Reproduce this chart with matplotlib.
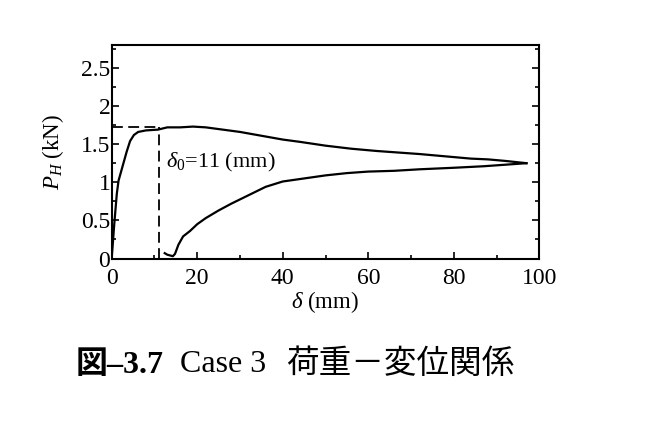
import matplotlib
matplotlib.use("Agg")
import matplotlib.pyplot as plt
from matplotlib.ticker import MultipleLocator

plt.rcParams['font.family'] = ['Liberation Serif', 'Noto Sans CJK JP', 'DejaVu Sans']
plt.rcParams['mathtext.fontset'] = 'custom'
plt.rcParams['mathtext.rm'] = 'Liberation Serif'
plt.rcParams['mathtext.it'] = 'Liberation Serif:italic'

# loading branch (delta in mm, P_H in kN)
load_x = [0, 0.6, 1.2, 1.6, 2.5, 3.5, 4.3, 5.2, 6.2, 8.0, 10.8, 13, 16, 19, 22, 26,
          30, 35, 40, 44, 50, 56, 62, 67, 72, 78, 84, 88, 92, 97]
load_y = [0, 0.45, 0.85, 1.02, 1.2, 1.4, 1.54, 1.62, 1.66, 1.68, 1.69, 1.72, 1.72, 1.73, 1.72, 1.69,
          1.66, 1.61, 1.56, 1.53, 1.48, 1.44, 1.41, 1.39, 1.37, 1.34, 1.31, 1.30, 1.28, 1.25]

# unloading branch
unload_x = [97, 92, 87, 80, 72, 66, 60, 55, 50, 45, 40, 36, 32, 28, 25, 22,
            20, 18.3, 16.7, 15.6, 14.8, 14.3, 13.0, 12.4]
unload_y = [1.25, 1.23, 1.21, 1.19, 1.17, 1.15, 1.14, 1.12, 1.09, 1.05, 1.01, 0.94, 0.83, 0.72, 0.63, 0.53,
            0.45, 0.36, 0.29, 0.18, 0.06, 0.03, 0.05, 0.07]

delta0 = 11
p_max = 1.73

fig = plt.figure(figsize=(6.52, 4.47), dpi=100)
ax = fig.add_axes([0.1713, 0.4217, 0.6559, 0.4776])

ax.plot(load_x, load_y, 'k-', lw=1.6)
ax.plot(unload_x, unload_y, 'k-', lw=1.6)
ax.plot([0, delta0], [p_max, p_max], 'k--', lw=1.3, dashes=(6, 3))
ax.plot([delta0, delta0], [0, p_max], 'k--', lw=1.3, dashes=(6, 3))

ax.text(12.6, 1.26, r'$\delta_0$=11 (mm)', fontsize=16, va='center', ha='left')

ax.set_xlim(0, 100)
ax.set_ylim(0, 2.8)
ax.xaxis.set_minor_locator(MultipleLocator(10))
ax.yaxis.set_minor_locator(MultipleLocator(0.25))
ax.set_xticks([0, 20, 40, 60, 80, 100])
ax.set_xticklabels(['0', '20', '40', '60', '80', '100'])
ax.set_yticks([0, 0.5, 1, 1.5, 2, 2.5])
ax.set_yticklabels(['0', '0.5', '1', '1.5', '2', '2.5'])

ax.tick_params(which='both', direction='in', top=False, right=True, labelsize=17, width=1.2)
ax.tick_params(which='major', length=5)
ax.tick_params(which='minor', length=3)
ax.tick_params(axis='y', pad=1)
ax.tick_params(axis='x', pad=7)
for s in ax.spines.values():
    s.set_linewidth(1.5)

ax.set_xlabel(r'$\delta$ (mm)', fontsize=16.5, labelpad=0)
ax.set_ylabel(r'$P_H$ (kN)', fontsize=16.5, labelpad=11)

# caption
cap_y = 1 - 365 / 447
fig.text(76 / 652, cap_y, '図–3.7', fontsize=23, fontweight='bold', va='center', ha='left')
fig.text(180 / 652, cap_y, 'Case 3', fontsize=23, va='center', ha='left')
fig.text(286 / 652, cap_y, '荷重－変位関係', fontsize=23.5, va='center', ha='left')

plt.savefig('out.png', dpi=100)
